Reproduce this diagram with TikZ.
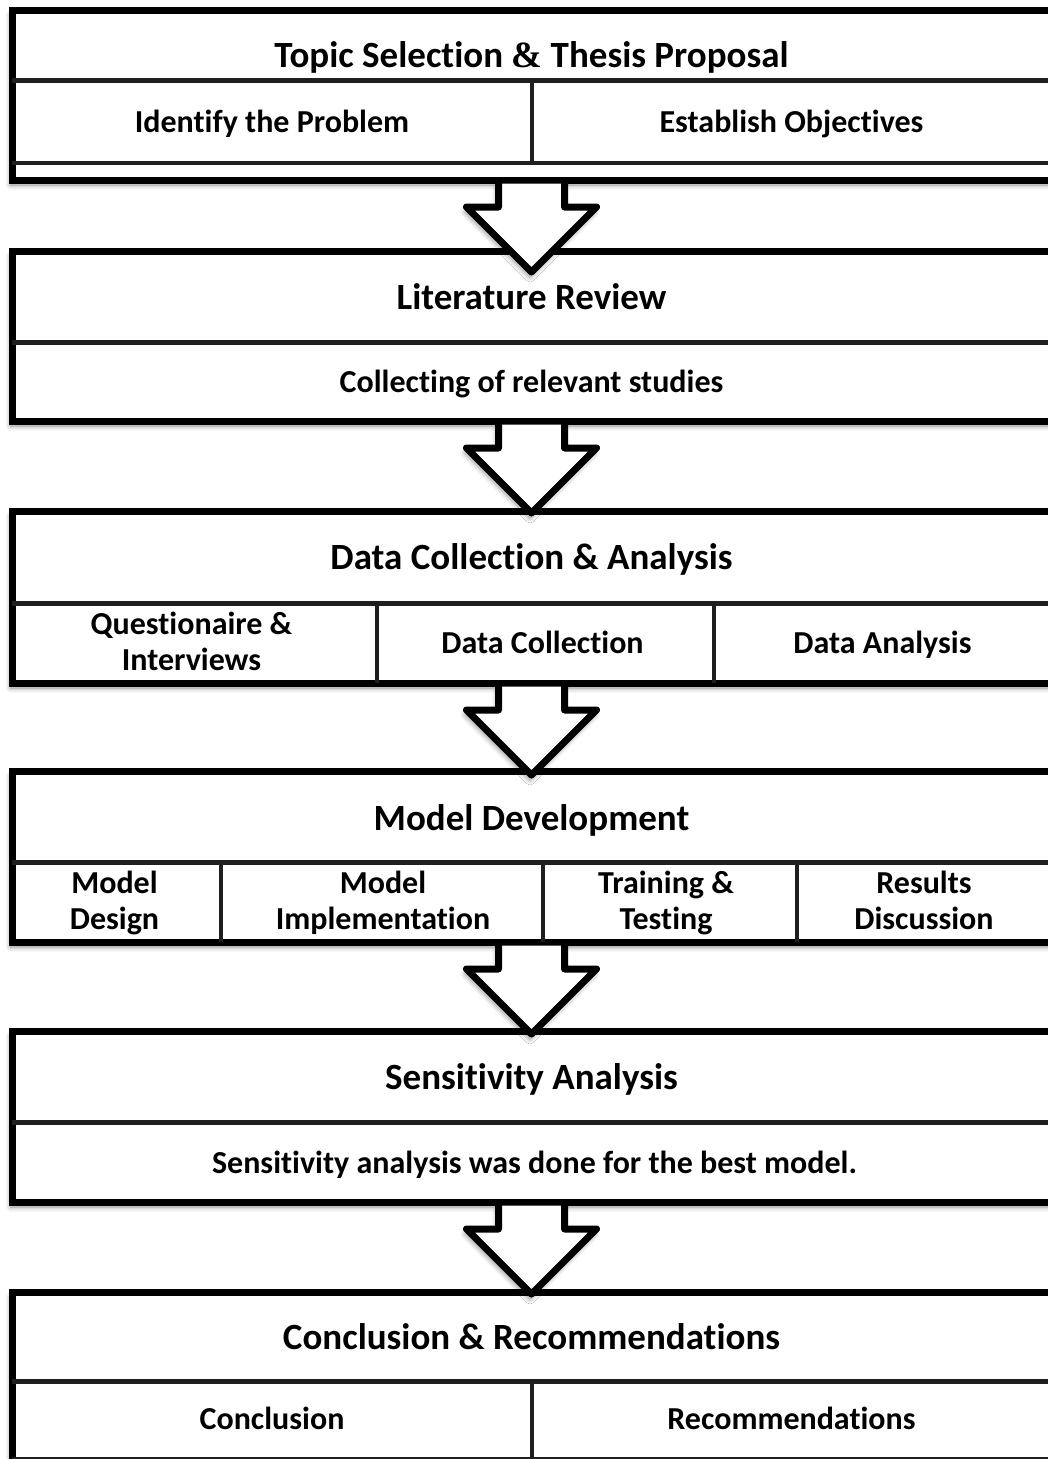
\documentclass[tikz,border=0pt]{standalone}
\usepackage{fontspec}
\setmainfont{Carlito}[Ligatures=NoCommon]
\newfontfamily\ampfont{Liberation Serif}
\usetikzlibrary{calc,shadows.blur}
\tikzset{
  x=1pt, y=-1pt,
  blockbox/.style={rectangle, draw=black, line width=7pt, fill=white, minimum width=1039pt, inner sep=0pt, outer sep=0pt,
    blur shadow={shadow xshift=-1.5pt, shadow yshift=-5pt, shadow blur radius=5pt, shadow opacity=45}},
  cell/.style={rectangle, draw=none, inner sep=0pt, outer sep=0pt, align=center,
    font=\fontsize{32}{36}\selectfont\bfseries, execute at begin node=\strut},
  ttl/.style={inner sep=0pt, outer sep=0pt, font=\fontsize{37}{43}\selectfont\bfseries, execute at begin node=\strut},
  divline/.style={draw=black!88, line width=5pt},
  cellline/.style={draw=black!88, line width=4pt},
  arrowfill/.style={fill=white, draw=none,
    blur shadow={shadow xshift=-1.5pt, shadow yshift=-5pt, shadow blur radius=5pt, shadow opacity=45}},
  arrowline/.style={draw=black, line width=7pt, line join=round},
}
\newcommand\blockarrow[1]{%
  \fill[arrowfill] ($(#1.south)+(-33,3.5)$) -- ($(#1.south)+(-33,27)$) -- ($(#1.south)+(-65,27)$)
    -- ($(#1.south)+(0,92)$) -- ($(#1.south)+(65,27)$) -- ($(#1.south)+(33,27)$) -- ($(#1.south)+(33,3.5)$) -- cycle;
  \draw[arrowline] ($(#1.south)+(-33,0)$) -- ($(#1.south)+(-33,27)$) -- ($(#1.south)+(-65,27)$)
    -- ($(#1.south)+(0,92)$) -- ($(#1.south)+(65,27)$) -- ($(#1.south)+(33,27)$) -- ($(#1.south)+(33,0)$);
}
\begin{document}
\begin{tikzpicture}
\useasboundingbox (0,0) rectangle (1048,1459);

% ---------- Block 1
\node[blockbox, minimum height=170pt] (b1) at (531.5,95) {};
\node[ttl] (t1) at (531.5,58.5) {Topic Selection {\ampfont\bfseries\&} Thesis Proposal};
\node[cell, minimum width=520pt, minimum height=83pt] (c11) at (272,121.5) {};
\node[cell, minimum width=519pt, minimum height=83pt] (c12) at (791.5,121.5) {};
\node[cell] (s11) at ($(c11.center)+(0,3.5)$) {Identify the Problem};
\node[cell] (s12) at ($(c12.center)+(0,3.5)$) {Establish Objectives};
\draw[divline] (c11.north west) -- (c12.north east);
\draw[cellline] (c11.south west) -- (c12.south east);
\draw[cellline] (c11.north east) -- (c11.south east);

% ---------- Block 2
\node[blockbox, minimum height=170pt] (b2) at (531.5,336) {};
\node[ttl] (t2) at (531.5,300.5) {Literature Review};
\node[cell, minimum width=1039pt, minimum height=79pt] (c21) at (531.5,381.5) {};
\node[cell] (s21) at ($(c21.center)+(0,3.5)$) {Collecting of relevant studies};
\draw[divline] (c21.north west) -- (c21.north east);

% ---------- Block 3
\node[blockbox, minimum height=172pt] (b3) at (531.5,597) {};
\node[ttl] (t3) at (531.5,561) {Data Collection \& Analysis};
\node[cell, minimum width=365pt, minimum height=80pt] (c31) at (194.5,643) {};
\node[cell, minimum width=337pt, minimum height=80pt] (c32) at (545.5,643) {};
\node[cell, minimum width=337pt, minimum height=80pt] (c33) at (882.5,643) {};
\node[cell] (s31) at ($(c31.center)+(-3,3.5)$) {Questionaire \&\\\strut Interviews};
\node[cell] (s32) at ($(c32.center)+(-3,3.5)$) {Data Collection};
\node[cell] (s33) at ($(c33.center)+(0,3.5)$) {Data Analysis};
\draw[divline] (c31.north west) -- (c33.north east);
\draw[cellline] (c31.north east) -- (c31.south east);
\draw[cellline] (c32.north east) -- (c32.south east);

% ---------- Block 4
\node[blockbox, minimum height=171pt] (b4) at (531.5,856.5) {};
\node[ttl] (t4) at (531.5,822) {Model Development};
\node[cell, minimum width=209pt, minimum height=80pt] (c41) at (116.5,902) {};
\node[cell, minimum width=322pt, minimum height=80pt] (c42) at (382,902) {};
\node[cell, minimum width=254pt, minimum height=80pt] (c43) at (670,902) {};
\node[cell, minimum width=254pt, minimum height=80pt] (c44) at (924,902) {};
\node[cell] (s41) at ($(c41.center)+(-2,4)$) {Model\\\strut Design};
\node[cell] (s42) at ($(c42.center)+(1,4)$) {Model\\\strut Implementation};
\node[cell] (s43) at ($(c43.center)+(-4,4)$) {Training \&\\\strut Testing};
\node[cell] (s44) at ($(c44.center)+(0,4)$) {Results\\\strut Discussion};
\draw[divline] (c41.north west) -- (c44.north east);
\draw[cellline] (c41.north east) -- (c41.south east);
\draw[cellline] (c42.north east) -- (c42.south east);
\draw[cellline] (c43.north east) -- (c43.south east);

% ---------- Block 5
\node[blockbox, minimum height=171pt] (b5) at (531.5,1116.5) {};
\node[ttl] (t5) at (531.5,1081) {Sensitivity Analysis};
\node[cell, minimum width=1039pt, minimum height=80pt] (c51) at (531.5,1162) {};
\node[cell] (s51) at ($(c51.center)+(3,4)$) {Sensitivity analysis was done for the best model.};
\draw[divline] (c51.north west) -- (c51.north east);

% ---------- Block 6
\node[blockbox, minimum height=170pt] (b6) at (531.5,1377) {};
\node[ttl] (t6) at (531.5,1341) {Conclusion \& Recommendations};
\node[cell, minimum width=520pt, minimum height=78pt] (c61) at (272,1420) {};
\node[cell, minimum width=519pt, minimum height=78pt] (c62) at (791.5,1420) {};
\node[cell] (s61) at ($(c61.center)+(0,2.5)$) {Conclusion};
\node[cell] (s62) at ($(c62.center)+(0,2.5)$) {Recommendations};
\draw[divline] (c61.north west) -- (c62.north east);
\draw[cellline] (c61.south west) -- (c62.south east);
\draw[cellline] (c61.north east) -- (c61.south east);

% ---------- Arrows
\blockarrow{b1}
\blockarrow{b2}
\blockarrow{b3}
\blockarrow{b4}
\blockarrow{b5}
\end{tikzpicture}
\end{document}
